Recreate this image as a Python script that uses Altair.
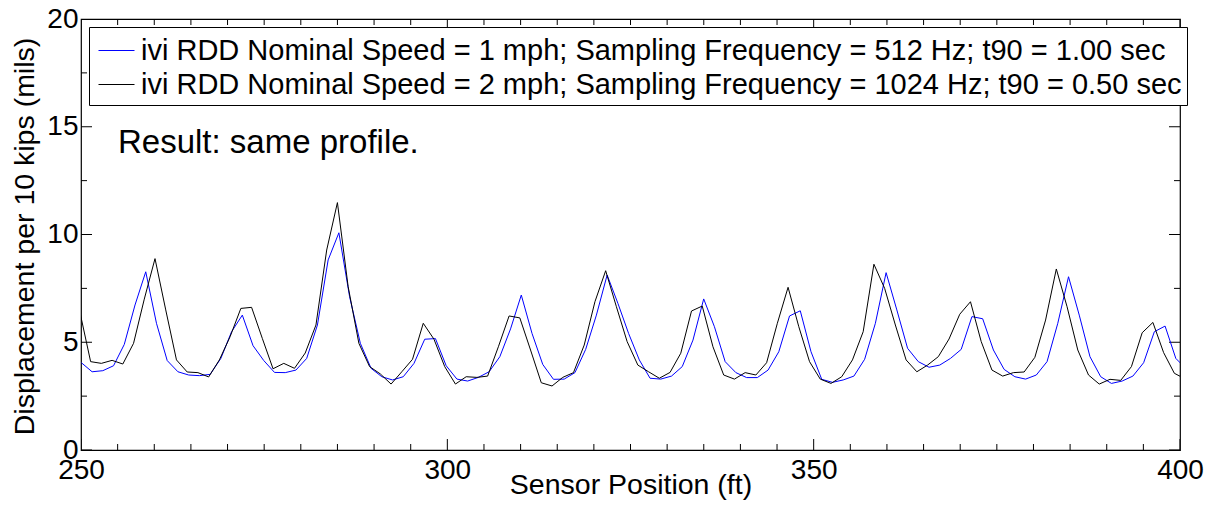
import altair as alt
import pandas as pd

FONT = "Liberation Sans"

# sampling grid (ft) of the two runs
STEP = 1.4645
BLUE_START = 250.05
BLACK_START = 249.85

blue_label = "ivi RDD Nominal Speed = 1 mph; Sampling Frequency = 512 Hz; t90 = 1.00 sec"
black_label = "ivi RDD Nominal Speed = 2 mph; Sampling Frequency = 1024 Hz; t90 = 0.50 sec"

blue_y = [4.05, 3.63, 3.68, 3.91, 4.90, 6.73, 8.27, 5.88, 4.15, 3.63,
          3.48, 3.45, 3.51, 4.25, 5.49, 6.26, 4.84, 4.15, 3.60, 3.59,
          3.71, 4.25, 5.80, 8.82, 10.08, 7.11, 4.95, 3.79, 3.40, 3.25,
          3.40, 4.02, 5.14, 5.17, 3.91, 3.29, 3.20, 3.37, 3.63, 4.33,
          5.62, 7.19, 5.41, 3.97, 3.28, 3.29, 3.59, 4.67, 6.26, 8.12,
          6.81, 5.41, 4.18, 3.33, 3.29, 3.43, 3.87, 5.10, 7.01, 5.72,
          4.10, 3.59, 3.36, 3.36, 3.71, 4.56, 6.22, 6.46, 4.56, 3.28,
          3.14, 3.25, 3.43, 4.21, 5.88, 8.23, 6.50, 4.72, 4.10, 3.84,
          3.94, 4.25, 4.67, 6.19, 6.09, 4.64, 3.74, 3.40, 3.29, 3.48,
          4.10, 5.88, 8.04, 6.26, 4.33, 3.40, 3.09, 3.20, 3.43, 4.05,
          5.49, 5.75, 4.25, 3.75]

black_y = [6.40, 4.10, 4.02, 4.16, 3.99, 4.95, 7.00, 8.88, 6.50, 4.18,
           3.62, 3.59, 3.39, 4.18, 5.26, 6.57, 6.62, 5.18, 3.77, 4.02,
           3.79, 4.50, 5.80, 9.28, 11.48, 7.58, 4.95, 3.87, 3.53, 3.06,
           3.63, 4.21, 5.88, 5.14, 3.87, 3.06, 3.40, 3.37, 3.43, 4.79,
           6.22, 6.13, 4.64, 3.12, 2.97, 3.37, 3.59, 4.87, 6.88, 8.32,
           6.65, 5.03, 3.94, 3.63, 3.33, 3.60, 4.49, 6.45, 6.68, 4.79,
           3.48, 3.29, 3.59, 3.48, 4.05, 5.88, 7.55, 5.72, 4.10, 3.29,
           3.09, 3.40, 4.18, 5.49, 8.62, 7.50, 5.80, 4.18, 3.63, 3.94,
           4.33, 5.15, 6.30, 6.88, 5.03, 3.71, 3.43, 3.59, 3.62, 4.30,
           6.03, 8.40, 6.65, 4.64, 3.48, 3.06, 3.28, 3.23, 3.87, 5.44,
           5.92, 4.52, 3.56, 3.30]

x_major = [250, 300, 350, 400]
x_minor = [255, 260, 265, 270, 275, 280, 285, 290, 295, 305, 310, 315, 320, 325,
           330, 335, 340, 345, 355, 360, 365, 370, 375, 380, 385, 390, 395]
y_major = [0, 5, 10, 15, 20]
y_minor = [2.5, 7.5, 12.5, 17.5]

note_text = ["Result: same profile."]
note_x = [255.05]
note_y = [13.78]

rows = []
for i, v in enumerate(blue_y):
    rows.append({"x": BLUE_START + STEP * i, "y": v, "series": blue_label})
for i, v in enumerate(black_y):
    rows.append({"x": BLACK_START + STEP * i, "y": v, "series": black_label})
df = pd.DataFrame(rows)

xt = []
for p in x_major:
    for e in (0, 20):
        xt.append({"pos": p, "edge": e, "len": 22})
for p in x_minor:
    for e in (0, 20):
        xt.append({"pos": p, "edge": e, "len": 12})
xt_df = pd.DataFrame(xt)

yt = []
for p in y_major:
    for e in (250, 400):
        yt.append({"pos": p, "edge": e, "len": 22})
for p in y_minor:
    for e in (250, 400):
        yt.append({"pos": p, "edge": e, "len": 12})
yt_df = pd.DataFrame(yt)

note_df = pd.DataFrame({"x": note_x, "y": note_y, "text": note_text})

xscale = alt.Scale(domain=[250, 400], nice=False, zero=False)
yscale = alt.Scale(domain=[0, 20], nice=False, zero=False)

xaxis = alt.Axis(values=x_major, format="d", labelFontSize=28, labelFont=FONT,
                 labelColor="black", labelPadding=6, ticks=False, tickSize=0,
                 domain=False, grid=False, labelFlush=False, labelOverlap=False,
                 title="Sensor Position (ft)", titleFont=FONT, titleFontSize=28.5,
                 titleFontWeight="normal", titleColor="black",
                 titleY=43, titleBaseline="alphabetic")
yaxis = alt.Axis(values=y_major, format="d", labelFontSize=28, labelFont=FONT,
                 labelColor="black", labelPadding=3, ticks=False, tickSize=0,
                 domain=False, grid=False, labelFlush=False, labelOverlap=False,
                 title="Displacement per 10 kips (mils)", titleFont=FONT,
                 titleFontSize=28.5, titleFontWeight="normal", titleColor="black",
                 titleX=-48, titleY=217, titleBaseline="alphabetic", titleAngle=270)

X = lambda f: alt.X(f, type="quantitative", scale=xscale, axis=xaxis)
Y = lambda f: alt.Y(f, type="quantitative", scale=yscale, axis=yaxis)

lines = alt.Chart(df).mark_line(strokeWidth=1, clip=True).encode(
    x=X("x"), y=Y("y"),
    color=alt.Color("series:N",
                    scale=alt.Scale(domain=[blue_label, black_label],
                                    range=["#0000ff", "#000000"]),
                    legend=alt.Legend(orient="none", legendX=8, legendY=8, title=None,
                                      symbolType="stroke", symbolSize=1296,
                                      symbolStrokeWidth=1, labelFontSize=29,
                                      labelFont=FONT, labelColor="black",
                                      labelLimit=3000, padding=5, rowPadding=0,
                                      labelOffset=6, symbolOffset=4,
                                      strokeColor="black", fillColor="white",
                                      cornerRadius=0)),
    order=alt.Order("x:Q"),
)

xticks = alt.Chart(xt_df).mark_tick(orient="vertical", clip=True, color="black",
                                    thickness=1, opacity=1).encode(
    x=X("pos"), y=Y("edge"), size=alt.Size("len:Q", scale=None))

yticks = alt.Chart(yt_df).mark_tick(orient="horizontal", clip=True, color="black",
                                    thickness=1, opacity=1).encode(
    x=X("edge"), y=Y("pos"), size=alt.Size("len:Q", scale=None))

note = alt.Chart(note_df).mark_text(align="left", baseline="alphabetic", fontSize=33,
                                    font=FONT, color="black").encode(
    x=X("x"), y=Y("y"), text="text:N")

chart = alt.layer(xticks, yticks, lines, note).properties(
    width=1099, height=431,
    autosize=alt.AutoSizeParams(type="none"),
    padding={"left": 81, "top": 19, "right": 36, "bottom": 66},
    background="white",
).configure_view(stroke="black", strokeWidth=1.2)

chart.save("out.html", embed_options={"renderer": "svg", "actions": False})
